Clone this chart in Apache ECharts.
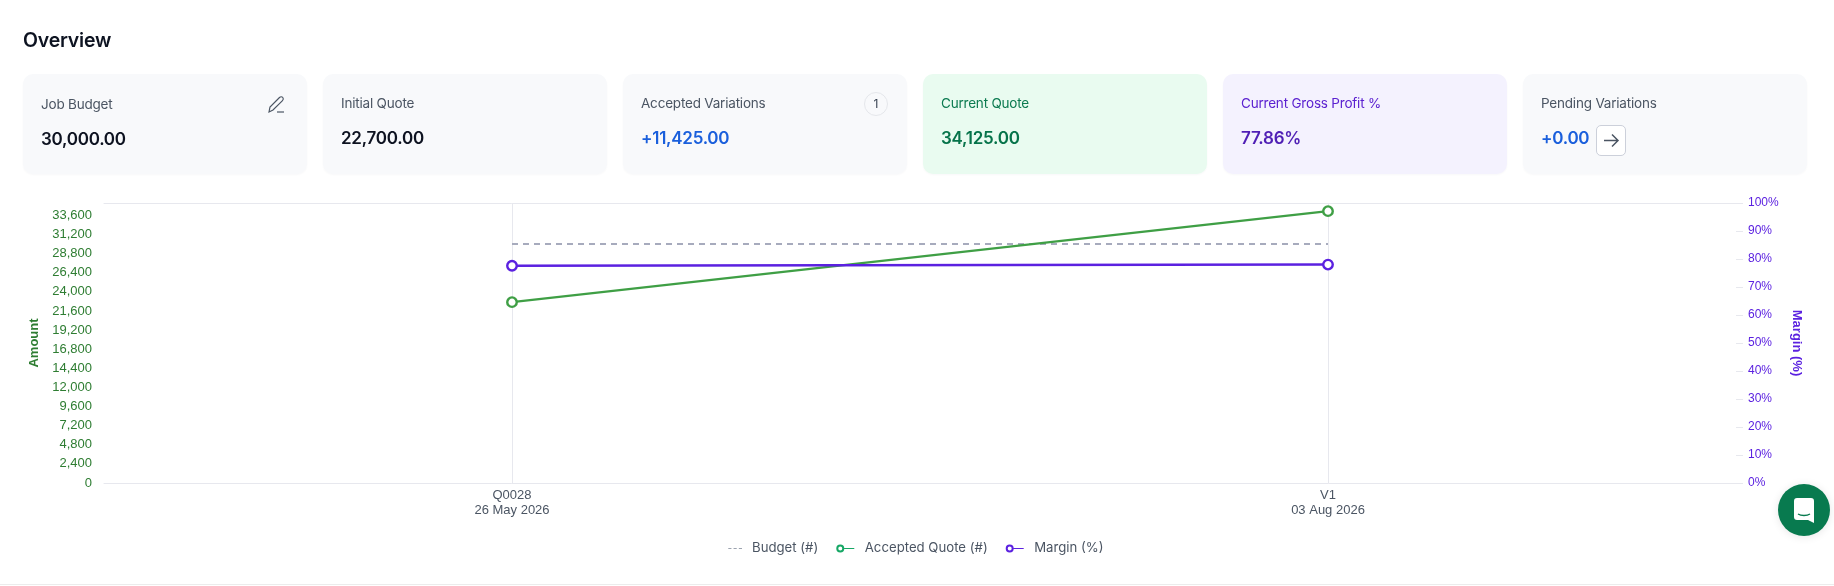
<!DOCTYPE html>
<html><head><meta charset="utf-8">
<script src="https://cdn.jsdelivr.net/npm/echarts@6/dist/echarts.min.js"></script>
<style>
html,body{margin:0;padding:0;background:#fff;width:1834px;height:586px;overflow:hidden;font-family:Inter,"Noto Sans",sans-serif}
#chart{position:absolute;left:0;top:0;width:1834px;height:586px}
h1{position:absolute;left:23px;top:27px;margin:0;font-size:19.5px;line-height:26px;font-weight:600;color:#0d1321;letter-spacing:-.2px}
.card{position:absolute;top:74px;width:284px;height:100px;border-radius:10px;background:#f8f9fb;box-shadow:0 1px 2px rgba(20,30,60,.03)}
.card .l{position:absolute;left:18px;top:20px;font-size:13.5px;line-height:18px;color:#4b5563;letter-spacing:-.2px}
.card .v{position:absolute;left:18px;top:52px;font-size:17px;line-height:24px;font-weight:600;color:#0d1220;letter-spacing:-.25px}
.card.first .l{top:21px}.card.first .v{top:53px}
.bl{color:#1a5fdc!important}
.gr{background:#e9fbf0}.gr .l{color:#0b7a50}.gr .v{color:#06734a}
.pu{background:#f4f2fe}.pu .l{color:#5b21d0}.pu .v{color:#4f1fb5}
.badge{position:absolute;left:241px;top:18px;width:22px;height:22px;border:1px solid #e5e7eb;border-radius:50%;text-align:center;font-size:12px;line-height:22px;color:#374151}
.btn{position:absolute;left:73px;top:51px;width:28px;height:29px;border:1px solid #ccd0da;border-radius:5px;background:#fff}
.ed{position:absolute;left:243px;top:21px}
#bot{position:absolute;left:0;top:584px;width:1834px;height:1px;background:#ececec}
#chat{position:absolute;left:1778px;top:484px;width:52px;height:52px;border-radius:50%;background:#087a4f;box-shadow:0 1px 8px rgba(0,0,0,.1)}
</style></head><body>
<div id="chart"></div>
<h1>Overview</h1>
<div class="card first" style="left:23px"><div class="l">Job Budget</div><div class="v">30,000.00</div>
<svg class="ed" width="20" height="20" viewBox="0 0 20 20" fill="none" stroke="#4b5563" stroke-width="1.2"><path d="M3 17l1-5L13.5 2.5c1-1 2.5-1 3.3 0s.7 2.2-.3 3.2L7 15z"/><path d="M11 17h7"/></svg></div>
<div class="card" style="left:323px"><div class="l">Initial Quote</div><div class="v">22,700.00</div></div>
<div class="card" style="left:623px"><div class="l">Accepted Variations</div><div class="v bl">+11,425.00</div><div class="badge">1</div></div>
<div class="card gr" style="left:923px"><div class="l">Current Quote</div><div class="v">34,125.00</div></div>
<div class="card pu" style="left:1223px"><div class="l">Current Gross Profit %</div><div class="v">77.86%</div></div>
<div class="card" style="left:1523px"><div class="l">Pending Variations</div><div class="v bl">+0.00</div>
<div class="btn"><svg width="28" height="29" viewBox="0 0 28 29" fill="none" stroke="#4b5563" stroke-width="1.5"><path d="M7 14.5h14M15 8.5l6 6-6 6"/></svg></div></div>
<div id="chat"><svg width="52" height="52" viewBox="0 0 52 52"><path d="M16 17a3 3 0 0 1 3-3h14a3 3 0 0 1 3 3v22l-6-3H19a3 3 0 0 1-3-3z" fill="#fff"/><path d="M20 30c3 2 9 2 12 0" stroke="#087a4f" stroke-width="1.3" fill="none"/></svg></div>
<div id="bot"></div>
<script>
const categories = ['Q0028\n26 May 2026', 'V1\n03 Aug 2026'];
const budget = [30000, 30000];
const acceptedQuote = [22700, 34125];
const margin = [77.6, 78];
const amountMax = 35148;
const seriesNames = ['Budget (#)', 'Accepted Quote (#)', 'Margin (%)'];

const lineC = '#e7e8ee', green = '#2e7d32', purple = '#5b21e0';
const ringIcon = 'path://M1 5a4 4 0 1 0 8 0a4 4 0 1 0 -8 0ZM3 5a2 2 0 1 1 4 0a2 2 0 1 1 -4 0ZM9 4.5H19V5.5H9Z';
const dashIcon = 'path://M1 5h0.01v0.01H1ZM6 4.5H9V5.5H6ZM11 4.5H14V5.5H11ZM16 4.5H19V5.5H16Z';
const chart = echarts.init(document.getElementById('chart'), null, {renderer: 'canvas'});
const axisFont = '"Liberation Sans", Arial, sans-serif';
chart.setOption({
  animation: false,
  grid: {left: 104, right: 98, top: 203, bottom: 103, containLabel: false},
  legend: {
    left: 718, top: 537, itemGap: 18, itemWidth: 19, itemHeight: 8, selectedMode: false,
    textStyle: {fontFamily: 'Inter', fontSize: 13.2, color: '#4b5563', padding: [0, 0, 0, 5]},
    data: [
      {name: seriesNames[0], icon: dashIcon, itemStyle: {color: '#9ca3af', borderWidth: 0}},
      {name: seriesNames[1], icon: ringIcon, itemStyle: {color: '#16a765', borderWidth: 0}},
      {name: seriesNames[2], icon: ringIcon, itemStyle: {color: purple, borderWidth: 0}}
    ]
  },
  xAxis: [{
    type: 'category', data: categories, position: 'bottom',
    axisLine: {onZero: false, lineStyle: {color: lineC}},
    axisTick: {show: true, alignWithLabel: true, inside: true, length: 280, lineStyle: {color: lineC}},
    axisLabel: {margin: 5, fontFamily: axisFont, fontSize: 13, lineHeight: 15, color: '#4b5563'}
  }, {
    type: 'category', data: categories, position: 'top',
    axisLine: {show: true, onZero: false, lineStyle: {color: lineC}},
    axisTick: {show: false}, axisLabel: {show: false}
  }],
  yAxis: [{
    type: 'value', min: 0, max: amountMax, interval: 2400, position: 'left',
    name: 'Amount', nameLocation: 'middle', nameGap: 61, nameRotate: 90,
    nameTextStyle: {color: green, fontFamily: axisFont, fontWeight: 'bold', fontSize: 13},
    axisLine: {show: false}, axisTick: {show: false}, splitLine: {show: false},
    axisLabel: {margin: 12, showMaxLabel: false, fontFamily: axisFont, fontSize: 13, color: green,
      formatter: v => v.toLocaleString('en-US')}
  }, {
    type: 'value', min: 0, max: 100, interval: 10, position: 'right',
    name: 'Margin (%)', nameLocation: 'middle', nameGap: 50, nameRotate: -90,
    nameTextStyle: {color: purple, fontFamily: axisFont, fontWeight: 'bold', fontSize: 13},
    axisLine: {show: true, lineStyle: {color: 'rgba(0,0,0,0)'}}, axisTick: {show: true, length: 7, lineStyle: {color: lineC}}, splitLine: {show: false},
    axisLabel: {margin: 12, fontFamily: axisFont, fontSize: 12, color: purple, formatter: '{value}%'}
  }],
  series: [{
    name: seriesNames[0], type: 'line', data: budget, yAxisIndex: 0, symbol: 'none',
    lineStyle: {color: '#a7abbd', width: 2, type: [6, 5]}, itemStyle: {color: '#a7abbd'}
  }, {
    name: seriesNames[1], type: 'line', data: acceptedQuote, yAxisIndex: 0,
    symbol: 'circle', symbolSize: 9.5,
    lineStyle: {color: '#3f9f45', width: 2.2},
    itemStyle: {color: '#fff', borderColor: '#3f9f45', borderWidth: 2.4}
  }, {
    name: seriesNames[2], type: 'line', data: margin, yAxisIndex: 1,
    symbol: 'circle', symbolSize: 9.5,
    lineStyle: {color: purple, width: 2.5},
    itemStyle: {color: '#fff', borderColor: purple, borderWidth: 2.4}
  }]
});
</script>
</body></html>
